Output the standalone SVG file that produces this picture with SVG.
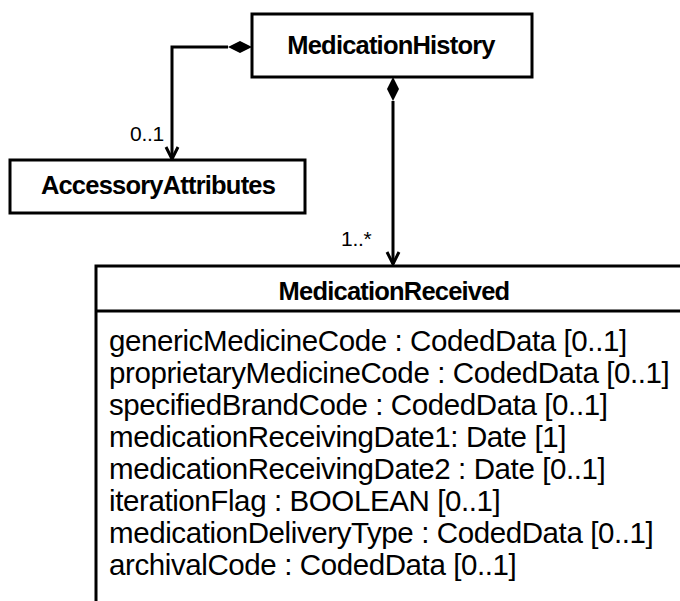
<svg xmlns="http://www.w3.org/2000/svg" width="680" height="601" viewBox="0 0 680 601">
<defs>
<style>
.box{fill:#fff;stroke:#000;stroke-width:3}
.title{font-family:"Liberation Sans",Arial,sans-serif;font-weight:bold;font-size:25.5px;letter-spacing:-0.8px;text-anchor:middle;fill:#000}
.attr{font-family:"Liberation Sans",Arial,sans-serif;font-size:29.5px;letter-spacing:-0.4px;fill:#000}
.mult{font-family:"Liberation Sans",Arial,sans-serif;font-size:21px;letter-spacing:-0.3px;fill:#000}
.line{fill:none;stroke:#000;stroke-width:3}
</style>
<marker id="open" markerWidth="16" markerHeight="16" refX="14" refY="8" orient="auto" markerUnits="userSpaceOnUse">
<path d="M2,2 L14,8 L2,14" fill="none" stroke="#000" stroke-width="3"/>
</marker>
</defs>
<g id="connectors">
<path class="line" d="M228,47 L172,47 L172,159" marker-end="url(#open)"/>
<polygon points="252,47 240,41 228,47 240,53" fill="#000"/>
<path class="line" d="M393,101 L393,264" marker-end="url(#open)"/>
<polygon points="393,77 399,89 393,101 387,89" fill="#000"/>
<text class="mult" x="130" y="141">0..1</text>
<text class="mult" x="341" y="246">1..*</text>
</g>
<g id="MedicationHistory">
<rect class="box" x="252" y="14" width="280" height="63"/>
<text class="title" x="391" y="54">MedicationHistory</text>
</g>
<g id="AccessoryAttributes">
<rect class="box" x="10" y="160" width="295" height="53"/>
<text class="title" x="158" y="194">AccessoryAttributes</text>
</g>
<g id="MedicationReceived">
<path class="line" d="M96,605 L96,266 L682,266"/>
<line class="line" x1="96" y1="311" x2="682" y2="311"/>
<text class="title" x="394" y="300">MedicationReceived</text>
<text class="attr" x="109" y="351">genericMedicineCode : CodedData [0..1]</text>
<text class="attr" x="109" y="383">proprietaryMedicineCode : CodedData [0..1]</text>
<text class="attr" x="109" y="415">specifiedBrandCode : CodedData [0..1]</text>
<text class="attr" x="109" y="447">medicationReceivingDate1: Date [1]</text>
<text class="attr" x="109" y="479">medicationReceivingDate2 : Date [0..1]</text>
<text class="attr" x="109" y="511">iterationFlag : BOOLEAN [0..1]</text>
<text class="attr" x="109" y="543">medicationDeliveryType : CodedData [0..1]</text>
<text class="attr" x="109" y="575">archivalCode : CodedData [0..1]</text>
</g>
</svg>
